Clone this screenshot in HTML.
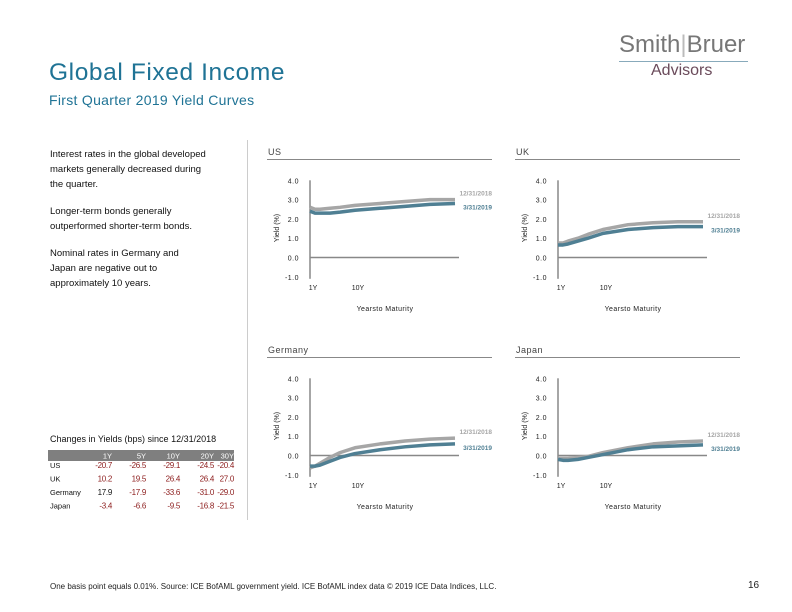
<!DOCTYPE html>
<html><head><meta charset="utf-8"><style>
body{margin:0;width:792px;height:612px;background:#fff;font-family:"Liberation Sans",sans-serif;position:relative;overflow:hidden}
.a{position:absolute;white-space:nowrap}
svg{position:absolute;left:0;top:0}
</style></head><body>
<div class="a" style="left:49px;top:59px;font-size:24.5px;letter-spacing:0.6px;color:#1f7395">Global Fixed Income</div>
<div class="a" style="left:49px;top:92px;font-size:14px;letter-spacing:0.3px;color:#1f7395">First Quarter 2019 Yield Curves</div>
<div class="a" style="left:619px;top:31px;font-size:24px;color:#777">Smith<span style="color:#bbb">|</span>Bruer</div>
<div class="a" style="left:619px;top:61px;width:129px;height:1px;background:#8ab"></div>
<div class="a" style="left:651px;top:62px;font-size:16px;color:#6a4a5a">Advisors</div>
<div class="a" style="left:50px;top:147px;font-size:9.5px;line-height:15px;color:#111">
Interest rates in the global developed<br>markets generally decreased during<br>the quarter.<div style="height:12px"></div>Longer-term bonds generally<br>outperformed shorter-term bonds.<div style="height:12px"></div>Nominal rates in Germany and<br>Japan are negative out to<br>approximately 10 years.</div>
<div class="a" style="left:50px;top:434px;font-size:9px;color:#111">Changes in Yields (bps) since 12/31/2018</div>
<div class="a" style="left:247px;top:140px;width:1px;height:380px;background:#ccc"></div>
<svg id="s" width="792" height="612"></svg>
<div class="a" style="left:50px;top:582px;font-size:8px;color:#222">One basis point equals 0.01%. Source: ICE BofAML government yield. ICE BofAML index data © 2019 ICE Data Indices, LLC.</div>
<div class="a" style="left:748px;top:580px;font-size:10px;color:#222">16</div>
<script>
const maturities=[1,2,3,5,7,10,15,20,25,30];
const usPrev=[2.6,2.5,2.5,2.55,2.6,2.7,2.8,2.9,3.0,3.0];
const usCur=[2.4,2.3,2.3,2.3,2.35,2.45,2.55,2.65,2.75,2.8];
const ukPrev=[0.75,0.75,0.85,1.0,1.2,1.45,1.7,1.8,1.85,1.85];
const ukCur=[0.65,0.65,0.7,0.85,1.0,1.25,1.45,1.55,1.6,1.6];
const dePrev=[-0.65,-0.55,-0.4,-0.1,0.15,0.4,0.6,0.75,0.85,0.9];
const deCur=[-0.55,-0.55,-0.5,-0.3,-0.1,0.1,0.3,0.45,0.55,0.6];
const jpPrev=[-0.15,-0.15,-0.15,-0.1,-0.05,0.15,0.4,0.6,0.7,0.75];
const jpCur=[-0.2,-0.25,-0.25,-0.2,-0.1,0.05,0.3,0.45,0.5,0.55];
const yTicks=["4.0","3.0","2.0","1.0","0.0","-1.0"];
const tableCols=["1Y","5Y","10Y","20Y","30Y"];
const tableRows=["US","UK","Germany","Japan"];
const tableVals=[[-20.7,-26.5,-29.1,-24.5,-20.4],[10.2,19.5,26.4,26.4,27.0],[17.9,-17.9,-33.6,-31.0,-29.0],[-3.4,-6.6,-9.5,-16.8,-21.5]];
const panels=[{n:"US",k:"us",ox:0,oy:0,p:usPrev,c:usCur},{n:"UK",k:"uk",ox:248,oy:0,p:ukPrev,c:ukCur},{n:"Germany",k:"germany",ox:0,oy:198,p:dePrev,c:deCur},{n:"Japan",k:"japan",ox:248,oy:198,p:jpPrev,c:jpCur}];
const s=document.getElementById('s');const NS="http://www.w3.org/2000/svg";
function el(t,a,txt){const e=document.createElementNS(NS,t);for(const k in a)e.setAttribute(k,a[k]);if(txt!==undefined)e.textContent=txt;s.appendChild(e);return e;}
panels.forEach(P=>{
 const X=m=>P.ox+310+(m-1)*5, Y=v=>P.oy+257.5-v*19.3;
 let t=el('text',{x:P.ox+268,y:P.oy+155,'font-size':9,fill:'#444','letter-spacing':0.5},P.n);
 
 let r=el('line',{x1:P.ox+267,x2:P.ox+492,y1:P.oy+159.5,y2:P.oy+159.5,stroke:'#888'});
 
 yTicks.forEach(l=>{let e=el('text',{x:P.ox+299,y:Y(parseFloat(l))+3,'font-size':7,'text-anchor':'end',fill:'#222','letter-spacing':0.5},l);
  });
 let ya=el('line',{x1:X(1),x2:X(1),y1:Y(4),y2:Y(-1)+2,stroke:'#888','stroke-width':1.5});
 
 let xa=el('line',{x1:X(1),x2:P.ox+459,y1:Y(0),y2:Y(0),stroke:'#888','stroke-width':1.5});
 
 [["1Y",1],["10Y",10]].forEach(([l,m])=>{let e=el('text',{x:X(m)+3,y:Y(-1)+13,'font-size':7,'text-anchor':'middle',fill:'#222'},l);
  });
 let xt=el('text',{x:P.ox+385,y:P.oy+311,'font-size':7,'text-anchor':'middle',fill:'#222','letter-spacing':0.4},'Yearsto Maturity');
 
 let yt=el('text',{x:0,y:0,'font-size':7,'text-anchor':'middle',fill:'#222',transform:`translate(${P.ox+279},${P.oy+228}) rotate(-90)`},'Yield (%)');
 
 [[P.p,'#a6a6a6','12/31/2018','prev'],[P.c,'#4f7f93','3/31/2019','cur']].forEach(([d,col,lab,id],i)=>{
  let pts=maturities.map((m,j)=>X(m)+','+Y(d[j])).join(' ');
  let pl=el('polyline',{points:pts,fill:'none',stroke:col,'stroke-width':3.5,'stroke-linejoin':'round'});
  
  let ly=Y(d[d.length-1])+(i==0?-4:6);
  let lt=el('text',{x:P.ox+492,y:ly,'font-size':6.5,'text-anchor':'end',fill:col,'font-weight':'bold'},lab);
  
 });
});
let hb=el('rect',{x:48,y:450,width:186,height:11,fill:'#7f7f7f'});

const colX=[112,146,180,214,234];
tableCols.forEach((c,i)=>{let e=el('text',{x:colX[i],y:458.5,'font-size':7.5,'text-anchor':'end',fill:'#fff'},c);
 });
tableRows.forEach((rn,r)=>{const y=468+r*13.5;
 let e=el('text',{x:50,y:y,'font-size':7.5,fill:'#111'},rn);
 
 tableVals[r].forEach((v,i)=>{let c=el('text',{x:colX[i],y:y,'font-size':8,'text-anchor':'end',fill:(r==2&&i==0)?'#111':'#8b1a1a','letter-spacing':-0.3},v.toFixed(1));
  });
});
</script>
</body></html>
